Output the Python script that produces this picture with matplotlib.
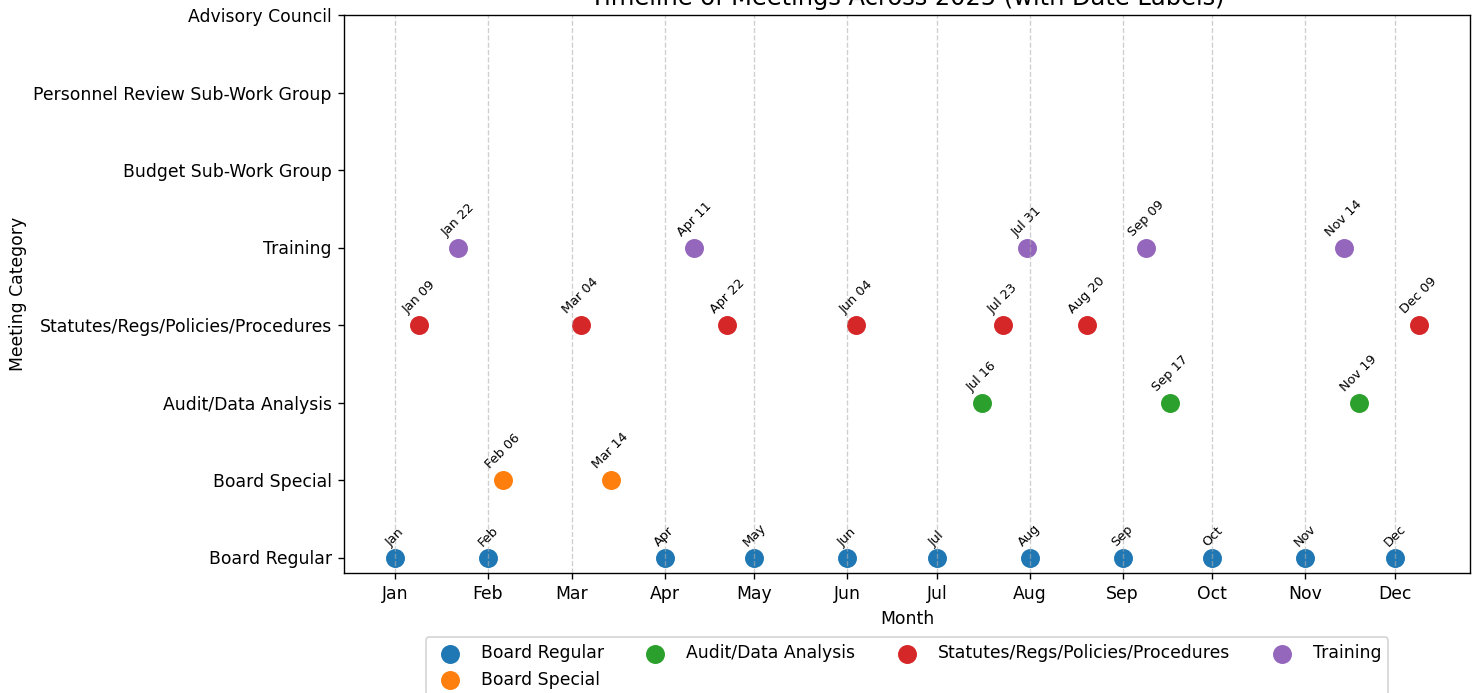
import matplotlib
matplotlib.use("Agg")
import matplotlib.pyplot as plt
import matplotlib.dates as mdates
import pandas as pd

categories = [
    "Board Regular",
    "Board Special",
    "Audit/Data Analysis",
    "Statutes/Regs/Policies/Procedures",
    "Training",
    "Budget Sub-Work Group",
    "Personnel Review Sub-Work Group",
    "Advisory Council",
]

board_regular_dates = ["2025-01-01", "2025-02-01", "2025-04-01", "2025-05-01", "2025-06-01",
                       "2025-07-01", "2025-08-01", "2025-09-01", "2025-10-01", "2025-11-01",
                       "2025-12-01"]
board_regular_labels = ["Jan", "Feb", "Apr", "May", "Jun", "Jul", "Aug", "Sep", "Oct", "Nov", "Dec"]

board_special_dates = ["2025-02-06", "2025-03-14"]
audit_dates = ["2025-07-16", "2025-09-17", "2025-11-19"]
statutes_dates = ["2025-01-09", "2025-03-04", "2025-04-22", "2025-06-04", "2025-07-23",
                  "2025-08-20", "2025-12-09"]
training_dates = ["2025-01-22", "2025-04-11", "2025-07-31", "2025-09-09", "2025-11-14"]

series = [
    ("Board Regular", board_regular_dates, board_regular_labels, "tab:blue"),
    ("Board Special", board_special_dates, None, "tab:orange"),
    ("Audit/Data Analysis", audit_dates, None, "tab:green"),
    ("Statutes/Regs/Policies/Procedures", statutes_dates, None, "tab:red"),
    ("Training", training_dates, None, "tab:purple"),
]

DPI = 124
W, H = 1478, 693
fig = plt.figure(figsize=(W / DPI, H / DPI), dpi=DPI)
ax = fig.add_axes([344 / W, (H - 573) / H, (1470 - 344) / W, (573 - 15) / H])

for name, dates, labels, color in series:
    d = pd.to_datetime(dates)
    y = [categories.index(name)] * len(d)
    ax.scatter(d, y, s=100, color=color, label=name)
    if labels is None:
        labels = [x.strftime("%b %d") for x in d]
    for xi, yi, lab in zip(d, y, labels):
        ax.annotate(lab, (xi, yi), xytext=(0, 5), textcoords="offset points",
                    rotation=45, ha="center", va="bottom", fontsize=7.5)

ax.set_yticks(range(len(categories)))
ax.set_yticklabels(categories)
ax.xaxis.set_major_locator(mdates.MonthLocator())
ax.xaxis.set_major_formatter(mdates.DateFormatter("%b"))
ax.grid(axis="x", linestyle="--", alpha=0.6)
ax.set_xlabel("Month")
ax.set_ylabel("Meeting Category")
ax.set_title("Timeline of Meetings Across 2025 (with Date Labels)", fontsize=14)
ax.legend(loc="upper center", bbox_to_anchor=(0.5, -0.1), ncol=4)

fig.savefig("out.png", dpi=DPI)
